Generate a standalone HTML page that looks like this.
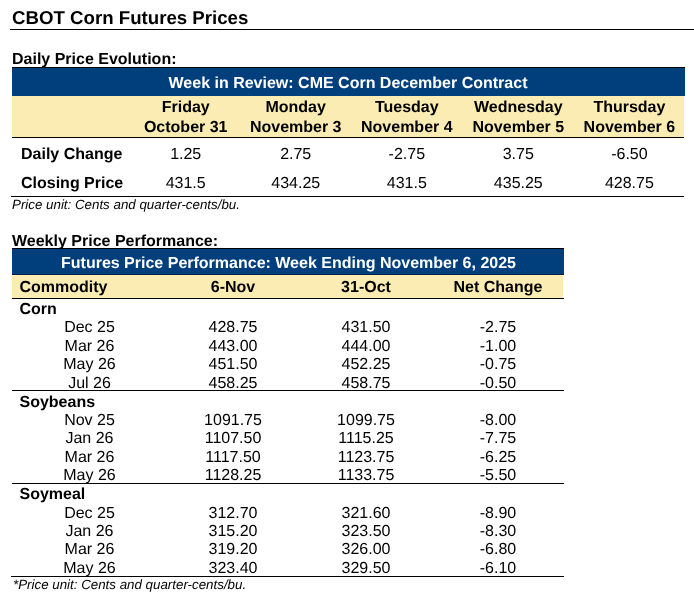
<!DOCTYPE html>
<html><head><meta charset="utf-8">
<style>
html,body{margin:0;padding:0;background:#fff;}
body{text-rendering:geometricPrecision;width:694px;height:600px;position:relative;overflow:hidden;font-family:"Liberation Sans",sans-serif;color:#000;}
.t{position:absolute;white-space:nowrap;}
#txt{position:absolute;left:0;top:0;width:694px;height:600px;will-change:transform;}
.b{position:absolute;}
</style></head><body>
<div class="b" style="left:10px;top:29px;width:684px;height:1px;background:#000;"></div>
<div class="b" style="left:12px;top:67px;width:673px;height:1px;background:#000;"></div>
<div class="b" style="left:12px;top:68px;width:673px;height:28px;background:#003e7c;"></div>
<div class="b" style="left:12px;top:96px;width:672px;height:41px;background:#faecb2;"></div>
<div class="b" style="left:12px;top:137px;width:672px;height:1px;background:#000;"></div>
<div class="b" style="left:11px;top:196px;width:673px;height:1px;background:#000;"></div>
<div class="b" style="left:12px;top:248px;width:552px;height:1px;background:#000;"></div>
<div class="b" style="left:12px;top:249px;width:552px;height:26px;background:#003e7c;"></div>
<div class="b" style="left:12px;top:274px;width:552px;height:1px;background:#00244f;"></div>
<div class="b" style="left:12px;top:275px;width:551px;height:23px;background:#faecb2;"></div>
<div class="b" style="left:12px;top:298px;width:552px;height:1px;background:#000;"></div>
<div class="b" style="left:12px;top:390px;width:552px;height:1px;background:#000;"></div>
<div class="b" style="left:12px;top:483px;width:552px;height:1px;background:#000;"></div>
<div class="b" style="left:11px;top:576px;width:553px;height:1px;background:#000;"></div>
<div id="txt">
<div class="t" style="top:6px;font-size:18.67px;line-height:23px;font-weight:bold;left:12.00px;">CBOT Corn Futures Prices</div>
<div class="t" style="top:50px;font-size:16px;line-height:20px;font-weight:bold;left:12.00px;">Daily Price Evolution:</div>
<div class="t" style="top:74px;font-size:16px;line-height:20px;font-weight:bold;color:#fff;left:-52.00px;width:800px;text-align:center;">Week in Review: CME Corn December Contract</div>
<div class="t" style="top:98px;font-size:16px;line-height:20px;font-weight:bold;left:-214.30px;width:800px;text-align:center;">Friday</div>
<div class="t" style="top:118px;font-size:16px;line-height:20px;font-weight:bold;left:-214.30px;width:800px;text-align:center;">October 31</div>
<div class="t" style="top:98px;font-size:16px;line-height:20px;font-weight:bold;left:-104.30px;width:800px;text-align:center;">Monday</div>
<div class="t" style="top:118px;font-size:16px;line-height:20px;font-weight:bold;left:-104.30px;width:800px;text-align:center;">November 3</div>
<div class="t" style="top:98px;font-size:16px;line-height:20px;font-weight:bold;left:6.80px;width:800px;text-align:center;">Tuesday</div>
<div class="t" style="top:118px;font-size:16px;line-height:20px;font-weight:bold;left:6.80px;width:800px;text-align:center;">November 4</div>
<div class="t" style="top:98px;font-size:16px;line-height:20px;font-weight:bold;left:118.30px;width:800px;text-align:center;">Wednesday</div>
<div class="t" style="top:118px;font-size:16px;line-height:20px;font-weight:bold;left:118.30px;width:800px;text-align:center;">November 5</div>
<div class="t" style="top:98px;font-size:16px;line-height:20px;font-weight:bold;left:229.40px;width:800px;text-align:center;">Thursday</div>
<div class="t" style="top:118px;font-size:16px;line-height:20px;font-weight:bold;left:229.40px;width:800px;text-align:center;">November 6</div>
<div class="t" style="top:145px;font-size:16px;line-height:20px;font-weight:bold;left:21.00px;">Daily Change</div>
<div class="t" style="top:174px;font-size:16px;line-height:20px;font-weight:bold;left:21.00px;">Closing Price</div>
<div class="t" style="top:145px;font-size:16px;line-height:20px;left:-214.30px;width:800px;text-align:center;">1.25</div>
<div class="t" style="top:145px;font-size:16px;line-height:20px;left:-104.30px;width:800px;text-align:center;">2.75</div>
<div class="t" style="top:145px;font-size:16px;line-height:20px;left:6.80px;width:800px;text-align:center;">-2.75</div>
<div class="t" style="top:145px;font-size:16px;line-height:20px;left:118.30px;width:800px;text-align:center;">3.75</div>
<div class="t" style="top:145px;font-size:16px;line-height:20px;left:229.40px;width:800px;text-align:center;">-6.50</div>
<div class="t" style="top:174px;font-size:16px;line-height:20px;left:-214.30px;width:800px;text-align:center;">431.5</div>
<div class="t" style="top:174px;font-size:16px;line-height:20px;left:-104.30px;width:800px;text-align:center;">434.25</div>
<div class="t" style="top:174px;font-size:16px;line-height:20px;left:6.80px;width:800px;text-align:center;">431.5</div>
<div class="t" style="top:174px;font-size:16px;line-height:20px;left:118.30px;width:800px;text-align:center;">435.25</div>
<div class="t" style="top:174px;font-size:16px;line-height:20px;left:229.40px;width:800px;text-align:center;">428.75</div>
<div class="t" style="top:196px;font-size:13.33px;line-height:17px;font-style:italic;left:12.00px;">Price unit: Cents and quarter-cents/bu.</div>
<div class="t" style="top:232px;font-size:16px;line-height:20px;font-weight:bold;left:12.00px;">Weekly Price Performance:</div>
<div class="t" style="top:254px;font-size:16px;line-height:20px;font-weight:bold;color:#fff;left:-111.50px;width:800px;text-align:center;">Futures Price Performance: Week Ending November 6, 2025</div>
<div class="t" style="top:278px;font-size:16px;line-height:20px;font-weight:bold;left:19.50px;">Commodity</div>
<div class="t" style="top:278px;font-size:16px;line-height:20px;font-weight:bold;left:-167.00px;width:800px;text-align:center;">6-Nov</div>
<div class="t" style="top:278px;font-size:16px;line-height:20px;font-weight:bold;left:-34.00px;width:800px;text-align:center;">31-Oct</div>
<div class="t" style="top:278px;font-size:16px;line-height:20px;font-weight:bold;left:98.00px;width:800px;text-align:center;">Net Change</div>
<div class="t" style="top:300px;font-size:16px;line-height:20px;font-weight:bold;left:19.50px;">Corn</div>
<div class="t" style="top:318px;font-size:16px;line-height:20px;left:-310.50px;width:800px;text-align:center;">Dec 25</div>
<div class="t" style="top:318px;font-size:16px;line-height:20px;left:-167.00px;width:800px;text-align:center;">428.75</div>
<div class="t" style="top:318px;font-size:16px;line-height:20px;left:-34.00px;width:800px;text-align:center;">431.50</div>
<div class="t" style="top:318px;font-size:16px;line-height:20px;left:98.00px;width:800px;text-align:center;">-2.75</div>
<div class="t" style="top:337px;font-size:16px;line-height:20px;left:-310.50px;width:800px;text-align:center;">Mar 26</div>
<div class="t" style="top:337px;font-size:16px;line-height:20px;left:-167.00px;width:800px;text-align:center;">443.00</div>
<div class="t" style="top:337px;font-size:16px;line-height:20px;left:-34.00px;width:800px;text-align:center;">444.00</div>
<div class="t" style="top:337px;font-size:16px;line-height:20px;left:98.00px;width:800px;text-align:center;">-1.00</div>
<div class="t" style="top:355px;font-size:16px;line-height:20px;left:-310.50px;width:800px;text-align:center;">May 26</div>
<div class="t" style="top:355px;font-size:16px;line-height:20px;left:-167.00px;width:800px;text-align:center;">451.50</div>
<div class="t" style="top:355px;font-size:16px;line-height:20px;left:-34.00px;width:800px;text-align:center;">452.25</div>
<div class="t" style="top:355px;font-size:16px;line-height:20px;left:98.00px;width:800px;text-align:center;">-0.75</div>
<div class="t" style="top:374px;font-size:16px;line-height:20px;left:-310.50px;width:800px;text-align:center;">Jul 26</div>
<div class="t" style="top:374px;font-size:16px;line-height:20px;left:-167.00px;width:800px;text-align:center;">458.25</div>
<div class="t" style="top:374px;font-size:16px;line-height:20px;left:-34.00px;width:800px;text-align:center;">458.75</div>
<div class="t" style="top:374px;font-size:16px;line-height:20px;left:98.00px;width:800px;text-align:center;">-0.50</div>
<div class="t" style="top:393px;font-size:16px;line-height:20px;font-weight:bold;left:19.50px;">Soybeans</div>
<div class="t" style="top:411px;font-size:16px;line-height:20px;left:-310.50px;width:800px;text-align:center;">Nov 25</div>
<div class="t" style="top:411px;font-size:16px;line-height:20px;left:-167.00px;width:800px;text-align:center;">1091.75</div>
<div class="t" style="top:411px;font-size:16px;line-height:20px;left:-34.00px;width:800px;text-align:center;">1099.75</div>
<div class="t" style="top:411px;font-size:16px;line-height:20px;left:98.00px;width:800px;text-align:center;">-8.00</div>
<div class="t" style="top:429px;font-size:16px;line-height:20px;left:-310.50px;width:800px;text-align:center;">Jan 26</div>
<div class="t" style="top:429px;font-size:16px;line-height:20px;left:-167.00px;width:800px;text-align:center;">1107.50</div>
<div class="t" style="top:429px;font-size:16px;line-height:20px;left:-34.00px;width:800px;text-align:center;">1115.25</div>
<div class="t" style="top:429px;font-size:16px;line-height:20px;left:98.00px;width:800px;text-align:center;">-7.75</div>
<div class="t" style="top:448px;font-size:16px;line-height:20px;left:-310.50px;width:800px;text-align:center;">Mar 26</div>
<div class="t" style="top:448px;font-size:16px;line-height:20px;left:-167.00px;width:800px;text-align:center;">1117.50</div>
<div class="t" style="top:448px;font-size:16px;line-height:20px;left:-34.00px;width:800px;text-align:center;">1123.75</div>
<div class="t" style="top:448px;font-size:16px;line-height:20px;left:98.00px;width:800px;text-align:center;">-6.25</div>
<div class="t" style="top:466px;font-size:16px;line-height:20px;left:-310.50px;width:800px;text-align:center;">May 26</div>
<div class="t" style="top:466px;font-size:16px;line-height:20px;left:-167.00px;width:800px;text-align:center;">1128.25</div>
<div class="t" style="top:466px;font-size:16px;line-height:20px;left:-34.00px;width:800px;text-align:center;">1133.75</div>
<div class="t" style="top:466px;font-size:16px;line-height:20px;left:98.00px;width:800px;text-align:center;">-5.50</div>
<div class="t" style="top:485px;font-size:16px;line-height:20px;font-weight:bold;left:19.50px;">Soymeal</div>
<div class="t" style="top:504px;font-size:16px;line-height:20px;left:-310.50px;width:800px;text-align:center;">Dec 25</div>
<div class="t" style="top:504px;font-size:16px;line-height:20px;left:-167.00px;width:800px;text-align:center;">312.70</div>
<div class="t" style="top:504px;font-size:16px;line-height:20px;left:-34.00px;width:800px;text-align:center;">321.60</div>
<div class="t" style="top:504px;font-size:16px;line-height:20px;left:98.00px;width:800px;text-align:center;">-8.90</div>
<div class="t" style="top:522px;font-size:16px;line-height:20px;left:-310.50px;width:800px;text-align:center;">Jan 26</div>
<div class="t" style="top:522px;font-size:16px;line-height:20px;left:-167.00px;width:800px;text-align:center;">315.20</div>
<div class="t" style="top:522px;font-size:16px;line-height:20px;left:-34.00px;width:800px;text-align:center;">323.50</div>
<div class="t" style="top:522px;font-size:16px;line-height:20px;left:98.00px;width:800px;text-align:center;">-8.30</div>
<div class="t" style="top:540px;font-size:16px;line-height:20px;left:-310.50px;width:800px;text-align:center;">Mar 26</div>
<div class="t" style="top:540px;font-size:16px;line-height:20px;left:-167.00px;width:800px;text-align:center;">319.20</div>
<div class="t" style="top:540px;font-size:16px;line-height:20px;left:-34.00px;width:800px;text-align:center;">326.00</div>
<div class="t" style="top:540px;font-size:16px;line-height:20px;left:98.00px;width:800px;text-align:center;">-6.80</div>
<div class="t" style="top:559px;font-size:16px;line-height:20px;left:-310.50px;width:800px;text-align:center;">May 26</div>
<div class="t" style="top:559px;font-size:16px;line-height:20px;left:-167.00px;width:800px;text-align:center;">323.40</div>
<div class="t" style="top:559px;font-size:16px;line-height:20px;left:-34.00px;width:800px;text-align:center;">329.50</div>
<div class="t" style="top:559px;font-size:16px;line-height:20px;left:98.00px;width:800px;text-align:center;">-6.10</div>
<div class="t" style="top:576px;font-size:13.33px;line-height:17px;font-style:italic;left:13.00px;">*Price unit: Cents and quarter-cents/bu.</div>
</div>
</body></html>
